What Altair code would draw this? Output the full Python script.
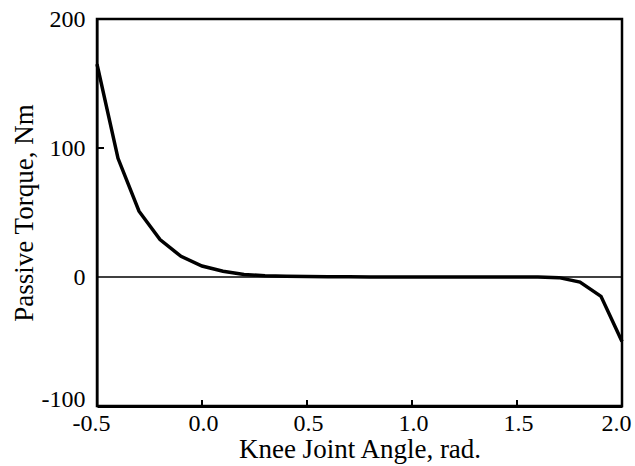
import altair as alt
import pandas as pd

# Data
angle = [-0.5, -0.4, -0.3, -0.2, -0.1, 0.0, 0.1, 0.2, 0.3, 0.4, 0.5, 0.6, 0.7,
         0.8, 0.9, 1.0, 1.1, 1.2, 1.3, 1.4, 1.5, 1.6, 1.7, 1.8, 1.9, 2.0]
torque = [165, 92, 51, 29, 16, 8.5, 4.5, 2, 1, 0.5, 0.3, 0.2, 0.1,
          0, 0, 0, 0, 0, 0, 0, 0, 0, -0.5, -4, -15, -50]
x_ticks = [-0.5, 0.0, 0.5, 1.0, 1.5, 2.0]
y_ticks = [-100, 0, 100, 200]
inner_x_ticks = [0.0, 0.5, 1.0, 1.5]
inner_y_ticks = [100]

W, H = 525, 387
FONT = "Liberation Serif"

df = pd.DataFrame({"angle": angle, "torque": torque})

xs = alt.Scale(domain=[-0.5, 2.0], nice=False, zero=False)
ys = alt.Scale(domain=[-100, 200], nice=False, zero=False)

x_axis = alt.Axis(
    values=x_ticks, title="Knee Joint Angle, rad.",
    labelExpr="replace(format(datum.value, '.1f'), '\u2212', '-')",
    tickSize=0, labelPadding=5, grid=False, labelFlush=False,
    domainColor="black", domainWidth=3,
    labelFont=FONT, labelFontSize=24, labelColor="black",
    titleFont=FONT, titleFontSize=27, titleFontWeight="normal", titleColor="black",
    titlePadding=1,
    labelOffset={"condition": {"test": "datum.value == 2 || datum.value == -0.5", "value": -6}, "value": 1},
)
y_axis = alt.Axis(
    values=y_ticks, title="Passive Torque, Nm",
    labelExpr="replace(format(datum.value, 'd'), '\u2212', '-')",
    tickSize=0, labelPadding=12, grid=False,
    domainColor="black", domainWidth=2,
    labelFont=FONT, labelFontSize=24, labelColor="black",
    titleFont=FONT, titleFontSize=27, titleFontWeight="normal", titleColor="black",
    titlePadding=3,
    labelOffset={"condition": {"test": "datum.value == -100", "value": -7}, "value": 0},
)

curve = alt.Chart(df).mark_line(color="black", strokeWidth=3.5).encode(
    x=alt.X("angle:Q", scale=xs, axis=x_axis),
    y=alt.Y("torque:Q", scale=ys, axis=y_axis),
)

zero = alt.Chart(pd.DataFrame({"y": [0]})).mark_rule(color="black", strokeWidth=1.5).encode(
    y=alt.Y("y:Q", scale=ys),
)

xt = alt.Chart(pd.DataFrame({"t": inner_x_ticks})).mark_rule(color="black", strokeWidth=2).encode(
    x=alt.X("t:Q", scale=xs),
    y=alt.value(H), y2=alt.value(H - 6),
)

yt = alt.Chart(pd.DataFrame({"t": inner_y_ticks})).mark_rule(color="black", strokeWidth=2).encode(
    y=alt.Y("t:Q", scale=ys),
    x=alt.value(0), x2=alt.value(7),
)

chart = alt.layer(zero, xt, yt, curve).properties(
    width=W, height=H,
    autosize=alt.AutoSizeParams(type="none"),
    padding={"left": 97, "top": 19, "right": 13, "bottom": 60},
    background="white",
).configure_view(
    stroke="black", strokeWidth=2.5,
)

chart.save("out.html", embed_options={"renderer": "svg", "actions": False})
